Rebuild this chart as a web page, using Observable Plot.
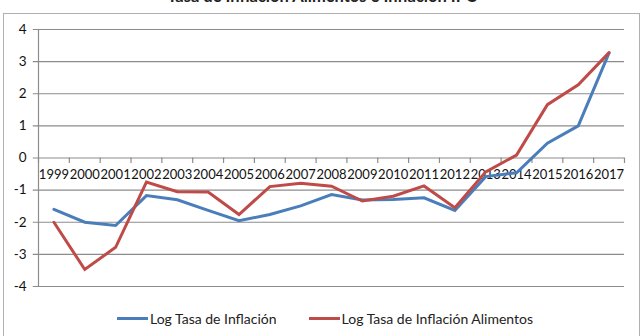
<!DOCTYPE html>
<html>
<head>
<meta charset="utf-8">
<script src="https://cdn.jsdelivr.net/npm/d3@7"></script>
<script src="https://cdn.jsdelivr.net/npm/@observablehq/plot@0.6"></script>
<style>
  html, body { margin: 0; padding: 0; background: #fff; overflow: hidden; }
  #wrap { position: relative; width: 644px; height: 336px; font-family: Lato, "Open Sans", sans-serif; }
  #border { position: absolute; left: 3px; top: 13px; width: 637px; height: 340px; border: 1px solid #b0b0b0; box-sizing: border-box; }
  #title { position: absolute; left: 0; width: 644px; top: -14px; line-height: 20px; text-align: center; font-weight: bold; font-size: 16.5px; font-family: Lato, sans-serif; color: #222; }
  #chart { position: absolute; left: 0; top: 0; }
  #legend { position: absolute; top: 310px; left: 117px; font-size: 14px; color: #222; display: flex; align-items: center; white-space: nowrap; }
  .sw { display: inline-block; width: 31px; height: 3px; margin-right: 2px; }
  .item { display: flex; align-items: center; }
</style>
</head>
<body>
<div id="wrap">
  <div id="border"></div>
  <div id="title">Tasa de Inflación Alimentos e Inflación IPC</div>
  <div id="chart"></div>
  <div id="legend"></div>
</div>
<script>
const years = [1999,2000,2001,2002,2003,2004,2005,2006,2007,2008,2009,2010,2011,2012,2013,2014,2015,2016,2017];
const inflacion = [-1.6,-2.0,-2.1,-1.17,-1.3,-1.63,-1.95,-1.76,-1.49,-1.14,-1.31,-1.29,-1.24,-1.63,-0.58,-0.46,0.46,1.0,3.27];
const inflacionAlimentos = [-2.0,-3.47,-2.78,-0.75,-1.05,-1.06,-1.76,-0.89,-0.79,-0.88,-1.34,-1.19,-0.87,-1.55,-0.43,0.09,1.66,2.28,3.28];
const yTicks = [-4,-3,-2,-1,0,1,2,3,4];
const seriesNames = ["Log Tasa de Inflación", "Log Tasa de Inflación Alimentos"];
const colors = ["#4A7EBB", "#BE4B48"];

const data = [];
years.forEach((yr, i) => {
  data.push({year: yr, value: inflacion[i], serie: seriesNames[0]});
  data.push({year: yr, value: inflacionAlimentos[i], serie: seriesNames[1]});
});
const boundaries = years.map(y => y - 0.5).concat([years[years.length - 1] + 0.5]);
const x0 = boundaries[0];

const chart = Plot.plot({
  width: 644,
  height: 336,
  marginLeft: 38,
  marginRight: 20,
  marginTop: 29,
  marginBottom: 50,
  style: {fontFamily: "Lato, 'Open Sans', sans-serif", fontSize: "13px", color: "#222", background: "transparent", overflow: "visible"},
  x: {type: "linear", domain: [x0, boundaries[boundaries.length - 1]], axis: null},
  y: {type: "linear", domain: [-4, 4], axis: null},
  color: {domain: seriesNames, range: colors},
  marks: [
    Plot.ruleY(yTicks, {y: d => d, x1: x0 - 0.17, x2: boundaries[boundaries.length - 1], stroke: "#8c8c8c", strokeWidth: 1.2}),
    Plot.ruleX([x0], {x: d => d, y1: -4, y2: 4, stroke: "#8c8c8c", strokeWidth: 1.2}),
    Plot.ruleX(boundaries, {x: d => d, y1: 0, y2: -0.17, stroke: "#8c8c8c", strokeWidth: 1.2}),
    Plot.text(yTicks, {x: () => x0, y: d => d, text: d => String(d), textAnchor: "end", dx: -12, fill: "#111", fontSize: 13.5}),
    Plot.text(years, {x: d => d, y: () => 0, text: d => String(d), dy: 17, fill: "#111", fontSize: 13}),
    Plot.line(data, {x: "year", y: "value", z: "serie", stroke: "serie", strokeWidth: 3, strokeLinejoin: "miter", strokeMiterlimit: 3})
  ]
});
document.getElementById("chart").appendChild(chart);

const legend = document.getElementById("legend");
seriesNames.forEach((name, i) => {
  const item = document.createElement("span");
  item.className = "item";
  if (i > 0) item.style.marginLeft = "32px";
  const sw = document.createElement("span");
  sw.className = "sw";
  sw.style.background = colors[i];
  item.appendChild(sw);
  const t = document.createElement("span");
  t.textContent = name;
  item.appendChild(t);
  legend.appendChild(item);
});
</script>
</body>
</html>
